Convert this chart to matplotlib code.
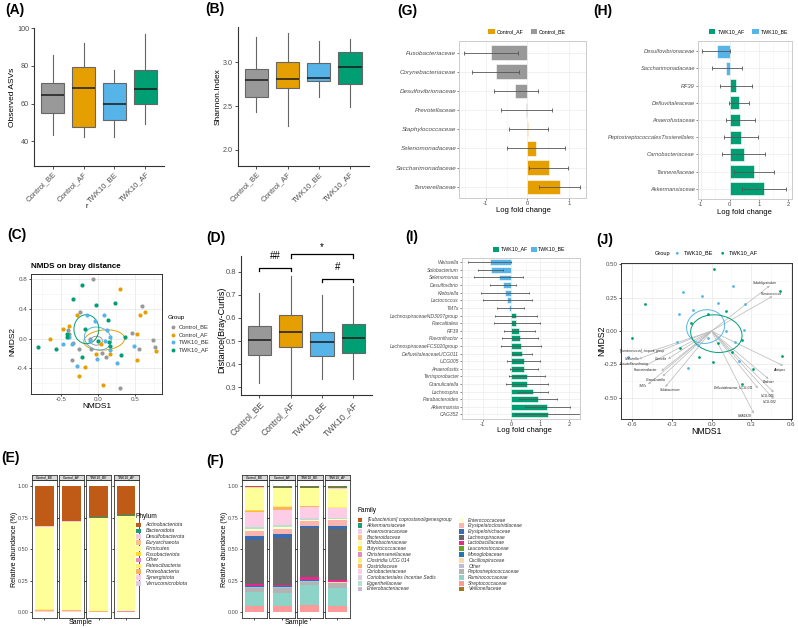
import numpy as np
import matplotlib
matplotlib.use('Agg')
import matplotlib.pyplot as plt
from matplotlib.patches import Ellipse, Rectangle

plt.rcParams['font.family'] = ['Liberation Sans', 'DejaVu Sans']

groups = ['Control_BE', 'Control_AF', 'TWK10_BE', 'TWK10_AF']
group_cols = ['#999999', '#E69F00', '#56B4E9', '#009E73']

# (A) observed ASVs box stats
asv_lo = [43, 42, 42, 49]
asv_q1 = [55, 47.5, 51, 59.5]
asv_med = [64.5, 68, 59.5, 67.5]
asv_q3 = [71, 79.5, 71, 78]
asv_hi = [86, 92, 78, 97]

# (B) Shannon index box stats
sh_lo = [2.43, 2.27, 2.60, 2.49]
sh_q1 = [2.60, 2.71, 2.79, 2.75]
sh_med = [2.80, 2.81, 2.82, 2.95]
sh_q3 = [2.93, 3.01, 2.99, 3.12]
sh_hi = [3.29, 3.34, 3.25, 3.27]

# (D) Bray-Curtis distance box stats
bc_lo = [0.32, 0.27, 0.335, 0.335]
bc_q1 = [0.44, 0.475, 0.435, 0.45]
bc_med = [0.505, 0.54, 0.495, 0.515]
bc_q3 = [0.565, 0.615, 0.54, 0.575]
bc_hi = [0.71, 0.78, 0.70, 0.74]
sig_pairs = [(1, 2), (2, 4), (3, 4)]
sig_y = [0.817, 0.875, 0.77]
sig_text = ['##', '*', '#']

# (C) NMDS points
c_be_x = [-0.07, -0.24, -0.40, -0.39, -0.34, -0.26, -0.35, -0.10, -0.09, 0.06, 0.11, 0.60, 0.46, 0.74, 0.77, 0.55, 0.30]
c_be_y = [0.80, 0.36, 0.117, 0.06, -0.06, -0.135, -0.29, -0.01, -0.14, -0.19, -0.25, 0.44, 0.08, -0.02, -0.11, -0.14, -0.66]
c_af_x = [0.30, -0.28, -0.47, -0.39, -0.64, 0.57, 0.63, 0.52, 0.78, 0.53, -0.03, 0.04, 0.16, -0.17, -0.26, 0.07]
c_af_y = [0.665, 0.315, 0.125, 0.17, -0.01, 0.32, 0.36, 0.06, -0.17, -0.29, -0.21, -0.075, -0.21, -0.385, -0.50, -0.63]
c_tbe_x = [-0.14, 0.08, -0.035, 0.12, -0.47, -0.35, -0.39, -0.11, 0.09, 0.16, -0.01, 0.16, -0.28, 0.26, 0.48]
c_tbe_y = [0.31, 0.315, 0.23, 0.117, -0.07, -0.07, 0.02, -0.03, -0.04, 0.02, -0.28, -0.15, -0.37, -0.33, -0.10]
c_taf_x = [-0.22, -0.34, -0.03, 0.23, 0.13, -0.17, -0.42, -0.41, -0.81, -0.56, 0.005, 0.16, -0.21, 0.31, 0.36, 0.15]
c_taf_y = [0.72, 0.53, 0.45, 0.48, 0.25, 0.125, 0.02, 0.06, -0.11, -0.14, -0.03, -0.10, -0.25, -0.22, 0.02, -0.05]
c_ell_x = [-0.02, 0.085, 0.0, -0.155]
c_ell_y = [-0.03, -0.02, 0.0, 0.125]
c_ell_w = [0.16, 0.55, 0.37, 0.335]
c_ell_h = [0.12, 0.27, 0.30, 0.39]
c_ell_a = [0, 5, -20, 0]

# (E) phylum composition, listed top of stack first
phyla = ['Actinobacteriota', 'Bacteroidota', 'Desulfobacterota', 'Euryarchaeota', 'Firmicutes',
         'Fusobacteriota', 'Other', 'Patescibacteria', 'Proteobacteria', 'Synergistota', 'Verrucomicrobiota']
phylum_cols = ['#BF5B17', '#1B9E77', '#F4CAE4', '#FDC086', '#FFFF99', '#FFD92F', '#E78AC3',
               '#FFED6F', '#FDB462', '#FCCDE5', '#DECBE4']
phylum_ab = [
    [0.315, 0.275, 0.245, 0.225],
    [0.004, 0.005, 0.006, 0.012],
    [0.001, 0.001, 0.001, 0.001],
    [0.001, 0.001, 0.001, 0.001],
    [0.656, 0.700, 0.738, 0.755],
    [0.001, 0.001, 0.001, 0.001],
    [0.001, 0.001, 0.001, 0.001],
    [0.003, 0.002, 0.001, 0.001],
    [0.010, 0.007, 0.004, 0.002],
    [0.006, 0.006, 0.001, 0.001],
    [0.002, 0.001, 0.001, 0.000],
]

# (F) family composition, listed top of stack first
families = ['[Eubacterium] coprostanoligenesgroup', 'Akkermansiaceae', 'Anaerovoracaceae', 'Bacteroidaceae',
            'Bifidobacteriaceae', 'Butyricicoccaceae', 'Christensenellaceae', 'Clostridia UCG 014',
            'Clostridiaceae', 'Coriobacteriaceae', 'Coriobacteriales Incertae Sedis', 'Eggerthellaceae',
            'Enterobacteriaceae', 'Enterococcaceae', 'Erysipelatoclostridiaceae', 'Erysipelotrichaceae',
            'Lachnospiraceae', 'Lactobacillaceae', 'Leuconostocaceae', 'Monoglobaceae', 'Oscillospiraceae',
            'Other', 'Peptostreptococcaceae', 'Ruminococcaceae', 'Streptococcaceae', 'Veillonellaceae']
family_cols = ['#BF5B17', '#1B9E77', '#F4CAE4', '#FDC086', '#FFFF99', '#FFD92F', '#E78AC3', '#FFED6F',
               '#FDB462', '#FCCDE5', '#DECBE4', '#B3E2CD', '#CBB5D9', '#FFFFCC', '#FBB4AE', '#386CB0',
               '#666666', '#E7298A', '#66A61E', '#1F78B4', '#FED9A6', '#BEBADA', '#B3B3B3', '#8DD3C7',
               '#FB9A99', '#A6761D']
family_ab = [
    [0.002, 0.002, 0.008, 0.006],
    [0.006, 0.011, 0.003, 0.008],
    [0.002, 0.002, 0.002, 0.004],
    [0.002, 0.002, 0.002, 0.004],
    [0.178, 0.140, 0.138, 0.140],
    [0.003, 0.002, 0.002, 0.003],
    [0.001, 0.001, 0.001, 0.001],
    [0.005, 0.006, 0.004, 0.004],
    [0.006, 0.025, 0.004, 0.005],
    [0.115, 0.113, 0.090, 0.074],
    [0.003, 0.003, 0.005, 0.003],
    [0.015, 0.016, 0.010, 0.010],
    [0.002, 0.002, 0.002, 0.002],
    [0.012, 0.015, 0.005, 0.008],
    [0.040, 0.042, 0.036, 0.040],
    [0.032, 0.032, 0.019, 0.025],
    [0.354, 0.369, 0.390, 0.412],
    [0.014, 0.012, 0.025, 0.010],
    [0.002, 0.002, 0.002, 0.002],
    [0.004, 0.003, 0.002, 0.002],
    [0.004, 0.003, 0.003, 0.003],
    [0.008, 0.006, 0.008, 0.006],
    [0.030, 0.040, 0.028, 0.036],
    [0.110, 0.105, 0.154, 0.144],
    [0.046, 0.042, 0.055, 0.045],
    [0.004, 0.004, 0.002, 0.003],
]

# (G) log fold change, Control
g_taxa = ['Fusobacteriaceae', 'Corynebacteriaceae', 'Desulfovibrionaceae', 'Prevotellaceae',
          'Staphylococcaceae', 'Selenomonadaceae', 'Saccharimonadaceae', 'Tannerellaceae']
g_lfc = [-0.87, -0.75, -0.29, -0.03, 0.02, 0.20, 0.52, 0.78]
g_lo = [-1.52, -1.33, -0.81, -0.64, -0.43, -0.49, 0.05, 0.28]
g_hi = [-0.22, -0.19, 0.25, 0.60, 0.50, 0.90, 0.98, 1.27]

# (H) family level, TWK10
h_taxa = ['Desulfovibrionaceae', 'Saccharimonadaceae', 'RF39', 'Defluviitaleaceae', 'Anaerofustaceae',
          'PeptostreptococcalesTissierellales', 'Carnobacteriaceae', 'Tannerellaceae', 'Akkermansiaceae']
h_lfc = [-0.45, -0.12, 0.20, 0.32, 0.37, 0.38, 0.48, 0.84, 1.19]
h_lo = [-0.95, -0.62, -0.35, -0.02, -0.13, -0.19, -0.25, 0.15, 0.43]
h_hi = [0.02, 0.41, 0.77, 0.67, 0.87, 0.97, 1.22, 1.53, 1.95]

# (I) genus level, TWK10
i_taxa = ['Weissella', 'Solobacterium', 'Selenomonas', 'Desulfovibrio', 'Klebsiella', 'Lactococcus', 'TM7x',
          'LachnospiraceaeND3007group', 'Faecalitalea', 'RF39', 'Flavonifractor', 'LachnospiraceaeFCS020group',
          'DefluviitaleaceaeUCG011', 'UCG005', 'Anaerofustis', 'Terrisporobacter', 'Granulicatella',
          'Lachnospira', 'Parabacteroides', 'Akkermansia', 'CAG352']
i_lfc = [-0.75, -0.70, -0.45, -0.30, -0.22, -0.15, -0.08, 0.15, 0.17, 0.25, 0.30, 0.32, 0.38, 0.42, 0.42,
         0.53, 0.55, 0.75, 0.93, 1.25, 1.27]
i_lo = [-1.50, -1.15, -1.30, -0.75, -1.05, -1.00, -0.52, -0.57, -0.60, -0.27, -0.32, -0.35, 0.03, -0.15,
        -0.05, -0.10, -0.18, 0.22, 0.27, 0.48, 0.12]
i_hi = [0.00, -0.28, 0.40, 0.17, 0.62, 0.70, 0.43, 0.90, 0.98, 0.80, 0.93, 1.02, 0.72, 0.98, 0.92, 1.15,
        1.27, 1.28, 1.57, 2.02, 2.43]

# (J) NMDS TWK10 with fitted taxa vectors
j_be_x = [0.159, -0.214, -0.072, 0.052, 0.255, -0.139, -0.246, 0.112, 0.243, -0.03, -0.258, 0.176, -0.104,
          0.206, -0.179, -0.631]
j_be_y = [0.34, 0.29, 0.265, 0.21, 0.20, 0.157, 0.128, 0.0, 0.01, -0.055, -0.085, -0.08, -0.105, -0.225,
          -0.275, -0.197]
j_af_x = [0.02, 0.519, -0.501, 0.112, -0.03, -0.156, -0.601, 0.231, 0.047, -0.236, 0.151, -0.097, 0.01,
          0.531, 0.313, 0.231]
j_af_y = [0.463, 0.302, 0.20, 0.152, 0.128, 0.062, -0.05, -0.067, -0.088, -0.125, -0.155, -0.193, -0.23,
          -0.185, -0.285, -0.40]
j_ell_x = [-0.045, 0.036]
j_ell_y = [0.033, -0.02]
j_ell_w = [0.29, 0.39]
j_ell_h = [0.25, 0.28]
j_ell_a = [15, -8]
j_taxa = ['Subdoligranulum', 'Ruminococcus', '[Ruminococcus]_torques_group', 'Veillonella', 'Gemella',
          'Pseudoflavonifractor', 'Fusicatenibacter', 'Granulicatella', 'TM7x', 'Solobacterium', 'Alistipes',
          'Dialister', 'Defluviitaleaceae_UCG-011', 'UCG-005', 'UCG-002', 'UBA1819']
j_vx = [0.44, 0.46, -0.45, -0.55, -0.33, -0.50, -0.38, -0.37, -0.48, -0.35, 0.54, 0.43, 0.35, 0.47, 0.47, 0.32]
j_vy = [0.34, 0.26, -0.15, -0.21, -0.21, -0.26, -0.30, -0.34, -0.40, -0.42, -0.26, -0.36, -0.43, -0.46, -0.51, -0.62]
j_lx = [0.40, 0.45, -0.53, -0.60, -0.38, -0.58, -0.50, -0.42, -0.52, -0.31, 0.51, 0.43, 0.17, 0.42, 0.44, 0.25]
j_ly = [0.36, 0.28, -0.15, -0.21, -0.21, -0.25, -0.295, -0.37, -0.41, -0.44, -0.29, -0.38, -0.425, -0.49, -0.535, -0.64]

W, H = 798, 628
fig = plt.figure(figsize=(W / 100, H / 100), dpi=100)
TXT = '#4d4d4d'


def px_ax(l, t, r, b):
    return fig.add_axes([l / W, 1 - b / H, (r - l) / W, (b - t) / H])


ov = fig.add_axes([0, 0, 1, 1], zorder=10)
ov.set_xlim(0, W)
ov.set_ylim(H, 0)
ov.axis('off')


def box_panel(ax, lo, q1, med, q3, hi, ylim, yticks, ylabs, xfs, yfs):
    stats = [dict(whislo=a, q1=b, med=c, q3=d, whishi=e, fliers=[])
             for a, b, c, d, e in zip(lo, q1, med, q3, hi)]
    bp = ax.bxp(stats, positions=[1, 2, 3, 4], widths=0.75, patch_artist=True, showcaps=False,
                boxprops=dict(edgecolor='#666666', linewidth=0.8),
                medianprops=dict(color='#1a1a1a', linewidth=1.1),
                whiskerprops=dict(color='#666666', linewidth=0.8))
    for p, c in zip(bp['boxes'], group_cols):
        p.set_facecolor(c)
    ax.set_xlim(0.4, 4.6)
    ax.set_ylim(*ylim)
    ax.set_xticks([1, 2, 3, 4])
    ax.set_xticklabels(groups, rotation=45, ha='right', va='top', rotation_mode='anchor',
                       fontsize=xfs, color=TXT)
    ax.set_yticks(yticks)
    ax.set_yticklabels(ylabs, fontsize=yfs, color=TXT)
    for s in ['top', 'right']:
        ax.spines[s].set_visible(False)
    for s in ['left', 'bottom']:
        ax.spines[s].set_color('#333333')
        ax.spines[s].set_linewidth(0.8)
    ax.tick_params(length=2, width=0.6, color='#333333', pad=1.5)


# ---- (A)
axA = px_ax(34, 27.5, 164, 166)
box_panel(axA, asv_lo, asv_q1, asv_med, asv_q3, asv_hi, (26.7, 100.5),
          [40, 60, 80, 100], ['40', '60', '80', '100'], 5.5, 5.2)
ov.text(13, 97, 'Observed ASVs', rotation=90, ha='center', va='center', fontsize=6)
ov.text(87, 207, 'r', ha='center', va='center', fontsize=5)

# ---- (B)
axB = px_ax(237.7, 26.7, 368.6, 165.7)
box_panel(axB, sh_lo, sh_q1, sh_med, sh_q3, sh_hi, (1.817, 3.41),
          [2.0, 2.5, 3.0], ['2.0', '2.5', '3.0'], 5.5, 5.2)
ov.text(218, 97, 'Shannon.Index', rotation=90, ha='center', va='center', fontsize=6)

# ---- (D)
axD = px_ax(240.7, 256, 372, 395)
box_panel(axD, bc_lo, bc_q1, bc_med, bc_q3, bc_hi, (0.267, 0.868),
          [0.3, 0.4, 0.5, 0.6, 0.7, 0.8], ['0.3', '0.4', '0.5', '0.6', '0.7', '0.8'], 6.2, 5.5)
ov.text(222, 330, 'Distance(Bray-Curtis)', rotation=90, ha='center', va='center', fontsize=6.5)
for (x1, x2), yy, tt in zip(sig_pairs, sig_y, sig_text):
    axD.plot([x1, x1, x2, x2], [yy - 0.014, yy, yy, yy - 0.014], color='black', lw=0.9, clip_on=False)
    off = 0.03 if tt == '*' else 0.05
    axD.text((x1 + x2) / 2, yy + off, tt, ha='center', va='center', fontsize=7, clip_on=False)

# ---- (C)
axC = px_ax(31, 274, 161.7, 394)
for xs, ys, c in zip([c_be_x, c_af_x, c_tbe_x, c_taf_x], [c_be_y, c_af_y, c_tbe_y, c_taf_y], group_cols):
    axC.scatter(xs, ys, s=9, color=c, lw=0, zorder=3)
for ex, ey, ew, eh, ea, c in zip(c_ell_x, c_ell_y, c_ell_w, c_ell_h, c_ell_a, group_cols):
    axC.add_patch(Ellipse((ex, ey), ew, eh, angle=ea, fill=False, ec=c, lw=0.7, zorder=2))
axC.set_xlim(-0.9, 0.859)
axC.set_ylim(-0.746, 0.867)
axC.set_xticks([-0.5, 0, 0.5])
axC.set_xticklabels(['-0.5', '0.0', '0.5'], fontsize=4.5, color=TXT)
axC.set_yticks([-0.4, 0, 0.4, 0.8])
axC.set_yticklabels(['-0.4', '0.0', '0.4', '0.8'], fontsize=4.5, color=TXT)
axC.set_xticks([-0.75, -0.25, 0.25, 0.75], minor=True)
axC.set_yticks([-0.6, -0.2, 0.2, 0.6], minor=True)
axC.grid(True, which='major', color='#e5e5e5', lw=0.5)
axC.grid(True, which='minor', color='#f2f2f2', lw=0.4)
axC.set_axisbelow(True)
axC.tick_params(length=1.5, width=0.5, pad=1)
axC.tick_params(which='minor', length=0)
for s in axC.spines.values():
    s.set_color('#333333')
    s.set_linewidth(0.7)
ov.text(31, 267, 'NMDS on bray distance', fontsize=5.8, fontweight='bold', va='center')
ov.text(97, 406, 'NMDS1', ha='center', va='center', fontsize=6)
ov.text(13, 342, 'NMDS2', rotation=90, ha='center', va='center', fontsize=6)
ov.text(168, 318, 'Group', fontsize=4.5, va='center')
for k, (g, c) in enumerate(zip(groups, group_cols)):
    ov.scatter([172.5], [327.3 + k * 7.4], s=8, color=c, lw=0)
    ov.text(178.5, 327.3 + k * 7.4, g, fontsize=4.2, va='center', color='#333333')


# ---- (E) and (F) facet bars
def facet_bars(lefts, width, ab, cols, yl_x, samp_x):
    ab = np.array(ab)
    for k, l in enumerate(lefts):
        ax = px_ax(l, 480, l + width, 618.3)
        base = 0.0
        for j in range(len(cols) - 1, -1, -1):
            ax.bar([1], [ab[j, k]], bottom=[base], width=0.9, color=cols[j], lw=0)
            base += ab[j, k]
        ax.set_xlim(0.4, 1.6)
        ax.set_ylim(-0.05, 1.05)
        ax.set_xticks([1])
        ax.set_xticklabels([''])
        ax.set_yticks([0, 0.25, 0.5, 0.75, 1.0])
        if k == 0:
            ax.set_yticklabels(['0.00', '0.25', '0.50', '0.75', '1.00'], fontsize=4, color=TXT)
        else:
            ax.set_yticklabels([])
            ax.tick_params(axis='y', length=0)
        ax.tick_params(length=1.5, width=0.5, pad=1)
        for s in ax.spines.values():
            s.set_color('#333333')
            s.set_linewidth(0.6)
        st = px_ax(l, 474.5, l + width, 480)
        st.set_facecolor('#d9d9d9')
        st.set_xticks([])
        st.set_yticks([])
        for s in st.spines.values():
            s.set_color('#333333')
            s.set_linewidth(0.6)
        st.text(0.5, 0.45, groups[k], fontsize=2.4, ha='center', va='center', transform=st.transAxes)
    ov.text(yl_x, 549, 'Relative abundance (%)', rotation=90, ha='center', va='center', fontsize=5)
    ov.text(samp_x, 623, 'Sample', ha='center', va='center', fontsize=5)


facet_bars([31.7, 59.0, 86.3, 113.6], 25.0, phylum_ab, phylum_cols, 14, 81)
facet_bars([241.7, 269.3, 296.9, 324.5], 25.6, family_ab, family_cols, 224, 297)

ov.text(136, 517, 'Phylum', fontsize=4.7, va='center')
for k, (n, c) in enumerate(zip(phyla, phylum_cols)):
    yy = 525 + k * 5.83
    ov.add_patch(Rectangle((136, yy - 2.3), 4.6, 4.6, fc=c, ec='none'))
    ov.text(145.5, yy, n, fontsize=3.8, style='italic', va='center', color='#333333')

ov.text(357.7, 510.7, 'Family', fontsize=4.7, va='center')
for k, (n, c) in enumerate(zip(families, family_cols)):
    col, row = divmod(k, 13)
    xk = 357.7 + col * 101.6
    yy = 520 + row * 5.75
    ov.add_patch(Rectangle((xk, yy - 2.3), 4.5, 4.6, fc=c, ec='none'))
    ov.text(xk + 9, yy, n, fontsize=3.5, style='italic', va='center', color='#333333')


# ---- (G)(H)(I) log fold change bars
def lfc_panel(ax, taxa, lfc, lo, hi, neg_c, pos_c, xlim, xticks, minor, cap, yfs):
    lfc, lo, hi = np.array(lfc), np.array(lo), np.array(hi)
    y = np.arange(len(taxa))
    cols = [pos_c if v > 0 else neg_c for v in lfc]
    ax.barh(y, lfc, height=0.75, color=cols, edgecolor='white', lw=0.4, zorder=2)
    ax.errorbar(lfc, y, xerr=[lfc - lo, hi - lfc], fmt='none', ecolor='#555555', elinewidth=0.7,
                capsize=cap, capthick=0.7, zorder=3, alpha=0.85)
    ax.set_yticks(y)
    ax.set_yticklabels(taxa, fontsize=yfs, style='italic', color=TXT)
    ax.set_ylim(len(taxa) - 0.4, -0.6)
    ax.set_xlim(*xlim)
    ax.set_xticks(xticks)
    ax.set_xticklabels([str(t) for t in xticks], fontsize=4.2, color=TXT)
    ax.set_xticks(minor, minor=True)
    ax.grid(True, which='major', color='#ebebeb', lw=0.5)
    ax.grid(True, which='minor', axis='x', color='#f4f4f4', lw=0.4)
    ax.set_axisbelow(True)
    ax.tick_params(length=1.5, width=0.5, color='#555555', pad=0.5)
    ax.tick_params(which='minor', length=0)
    for s in ax.spines.values():
        s.set_color('#cccccc')
        s.set_linewidth(0.7)


axG = px_ax(459, 41, 585.7, 198.3)
lfc_panel(axG, g_taxa, g_lfc, g_lo, g_hi, group_cols[0], group_cols[1], (-1.64, 1.40),
          [-1, 0, 1], [-1.5, -0.5, 0.5], 1.6, 4.5)
ov.text(523, 211, 'Log fold change', ha='center', va='center', fontsize=5.5)
for xk, xt, lab, c in [(488.3, 496.7, 'Control_AF', group_cols[1]), (530.7, 538.3, 'Control_BE', group_cols[0])]:
    ov.add_patch(Rectangle((xk, 29), 6.3, 5.4, fc=c, ec='none'))
    ov.text(xt, 31.7, lab, fontsize=3.8, va='center')

axH = px_ax(697.7, 41, 791.7, 199)
lfc_panel(axH, h_taxa, h_lfc, h_lo, h_hi, group_cols[2], group_cols[3], (-1.1, 2.13),
          [-1, 0, 1, 2], [-0.5, 0.5, 1.5], 1.6, 4.1)
ov.text(744, 212, 'Log fold change', ha='center', va='center', fontsize=5.5)
for xk, xt, lab, c in [(709, 718.3, 'TWK10_AF', group_cols[3]), (752.3, 760.5, 'TWK10_BE', group_cols[2])]:
    ov.add_patch(Rectangle((xk, 29), 6.3, 5.4, fc=c, ec='none'))
    ov.text(xt, 31.7, lab, fontsize=3.8, va='center')

axI = px_ax(461.7, 257.7, 580, 419)
lfc_panel(axI, i_taxa, i_lfc, i_lo, i_hi, group_cols[2], group_cols[3], (-1.73, 2.38),
          [-1, 0, 1, 2], [-1.5, -0.5, 0.5, 1.5], 1.0, 3.6)
ov.text(524, 431, 'Log fold change', ha='center', va='center', fontsize=5.5)
for xk, xt, lab, c in [(493.3, 500.7, 'TWK10_AF', group_cols[3]), (530.7, 538.3, 'TWK10_BE', group_cols[2])]:
    ov.add_patch(Rectangle((xk, 246.6), 5.8, 5.4, fc=c, ec='none'))
    ov.text(xt, 249.3, lab, fontsize=3.8, va='center')

# ---- (J)
axJ = px_ax(621, 262.7, 791.7, 419)
for vx, vy, lx, ly, n in zip(j_vx, j_vy, j_lx, j_ly, j_taxa):
    axJ.annotate('', xy=(vx, vy), xytext=(0, 0),
                 arrowprops=dict(arrowstyle='-|>', color='#bdbdbd', lw=0.55, mutation_scale=3,
                                 shrinkA=0, shrinkB=0), zorder=1)
    axJ.text(lx, ly, n, fontsize=2.3, style='italic', ha='center', va='center', color='#222222', zorder=4)
axJ.scatter(j_be_x, j_be_y, s=4, color=group_cols[2], lw=0, zorder=3)
axJ.scatter(j_af_x, j_af_y, s=4, color=group_cols[3], lw=0, zorder=3)
for ex, ey, ew, eh, ea, c in zip(j_ell_x, j_ell_y, j_ell_w, j_ell_h, j_ell_a, [group_cols[2], group_cols[3]]):
    axJ.add_patch(Ellipse((ex, ey), ew, eh, angle=ea, fill=False, ec=c, lw=0.7, zorder=2))
axJ.set_xlim(-0.684, 0.605)
axJ.set_ylim(-0.66, 0.512)
axJ.set_xticks([-0.6, -0.3, 0, 0.3, 0.6])
axJ.set_xticklabels(['-0.6', '-0.3', '0.0', '0.3', '0.6'], fontsize=4.4, color=TXT)
axJ.set_yticks([-0.5, -0.25, 0, 0.25, 0.5])
axJ.set_yticklabels(['-0.50', '-0.25', '0.00', '0.25', '0.50'], fontsize=4.4, color=TXT)
axJ.set_xticks([-0.45, -0.15, 0.15, 0.45], minor=True)
axJ.set_yticks([-0.375, -0.125, 0.125, 0.375], minor=True)
axJ.grid(True, which='major', color='#e8e8e8', lw=0.5)
axJ.grid(True, which='minor', color='#f4f4f4', lw=0.4)
axJ.set_axisbelow(True)
axJ.tick_params(length=1.5, width=0.5, pad=1)
axJ.tick_params(which='minor', length=0)
for s in axJ.spines.values():
    s.set_color('#333333')
    s.set_linewidth(0.7)
ov.text(706, 431, 'NMDS1', ha='center', va='center', fontsize=6.2)
ov.text(602, 341, 'NMDS2', rotation=90, ha='center', va='center', fontsize=6.2)
ov.text(655, 253.3, 'Group', fontsize=4.1, va='center')
ov.scatter([677.3, 722.7], [253.3, 253.3], s=4, color=[group_cols[2], group_cols[3]], lw=0)
ov.text(684, 253.3, 'TWK10_BE', fontsize=4.1, va='center')
ov.text(729, 253.3, 'TWK10_AF', fontsize=4.1, va='center')

# ---- panel letters
for lab, x, y in [('(A)', 5, 10), ('(B)', 205, 9), ('(C)', 7, 235), ('(D)', 206, 238), ('(E)', 1, 458),
                  ('(F)', 206, 461), ('(G)', 397, 11), ('(H)', 593, 11), ('(I)', 405, 237), ('(J)', 596, 240)]:
    ov.text(x, y, lab, fontsize=10, fontweight='bold', va='center')

fig.savefig('out.png', dpi=100)
